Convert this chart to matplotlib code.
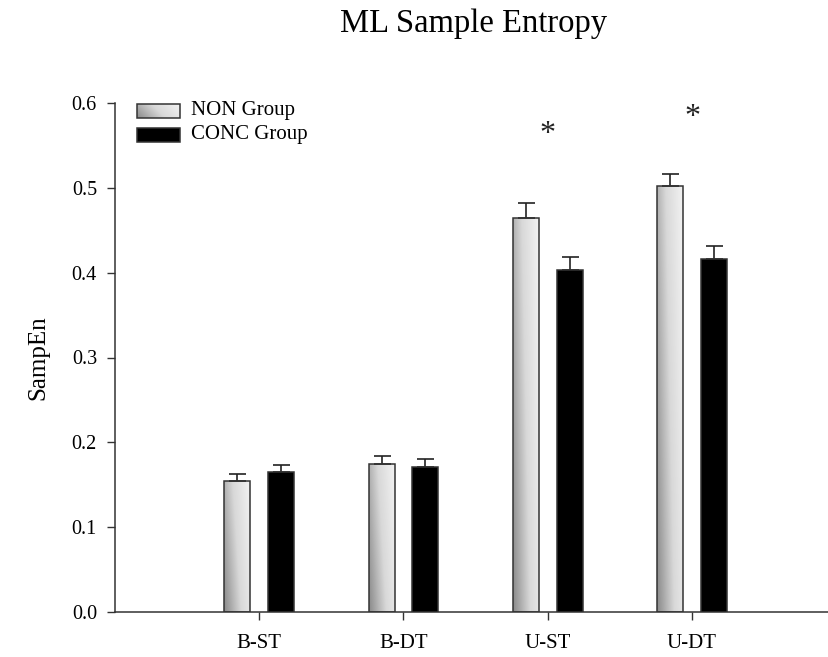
import numpy as np
import matplotlib
matplotlib.use("Agg")
import matplotlib.pyplot as plt
from matplotlib.patches import Rectangle
from matplotlib.colors import LinearSegmentedColormap

plt.rcParams['font.family'] = ['Liberation Serif', 'DejaVu Serif']

categories = ["B-ST", "B-DT", "U-ST", "U-DT"]
non_vals = [0.154, 0.175, 0.464, 0.502]
non_err = [0.009, 0.009, 0.018, 0.014]
conc_vals = [0.165, 0.171, 0.403, 0.416]
conc_err = [0.008, 0.009, 0.016, 0.015]
sig_y = [None, None, 0.563, 0.583]
series_names = ["NON Group", "CONC Group"]

W, H = 829, 657
fig = plt.figure(figsize=(W / 100, H / 100), dpi=100)
ax = fig.add_axes([115 / W, 1 - 612 / H, 1 - 115 / W, (612 - 103) / H])

x = np.arange(1, len(categories) + 1)
bw = 0.18
off = 0.152
edge = '#333333'

cmap = LinearSegmentedColormap.from_list('g', ['#8a8a8a', '#d8d8d8', '#f2f2f2'])
gx, gy = np.meshgrid(np.linspace(0, 1, 64), np.linspace(0, 1, 64))
grad = 0.75 * gx + 0.25 * gy

bars_non = ax.bar(x - off, non_vals, bw, facecolor='none', edgecolor=edge, linewidth=1.1, zorder=3)
for b in bars_non:
    im = ax.imshow(grad, cmap=cmap, vmin=0, vmax=1, origin='lower', aspect='auto',
                   extent=[b.get_x(), b.get_x() + b.get_width(), 0, b.get_height()],
                   zorder=2, interpolation='bilinear')
    im.set_clip_path(b)
ax.bar(x + off, conc_vals, bw, color='black', edgecolor=edge, linewidth=1.1, zorder=3)

ax.errorbar(x - off, non_vals, yerr=[np.zeros(4), non_err], fmt='none', ecolor='#222222',
            elinewidth=1.2, capsize=8.5 * 0.72, capthick=1.2, zorder=2.5)
ax.errorbar(x + off, conc_vals, yerr=[np.zeros(4), conc_err], fmt='none', ecolor='#222222',
            elinewidth=1.2, capsize=8.5 * 0.72, capthick=1.2, zorder=2.5)

for xi, sy in zip(x, sig_y):
    if sy is not None:
        ax.text(xi, sy, '*', ha='center', va='center', fontsize=23, color='#222222')

ax.set_xlim(0.0, 4.95)
ax.set_ylim(0, 0.6)
ax.set_xticks(x)
ax.set_xticklabels(categories, fontsize=15)
ax.set_yticks(np.arange(0, 0.61, 0.1))
ax.set_yticklabels([f"{v:.1f}" for v in np.arange(0, 0.61, 0.1)], fontsize=14.5)
ax.spines['top'].set_visible(False)
ax.spines['right'].set_visible(False)
for s in ['left', 'bottom']:
    ax.spines[s].set_color('#333333')
    ax.spines[s].set_linewidth(1.1)
ax.tick_params(axis='both', direction='out', length=6, width=1.0, color='#333333')
ax.tick_params(axis='y', pad=7)
ax.tick_params(axis='x', pad=10)
ax.set_ylabel('SampEn', fontsize=18, labelpad=16)

# legend (manual)
def ax_xy(px, py):
    return (px - 115) / (W - 115), (612 - py) / (612 - 103)

x0, y0 = ax_xy(137, 118)
x1, y1 = ax_xy(180, 104)
r = Rectangle((x0, y0), x1 - x0, y1 - y0, transform=ax.transAxes, facecolor='none',
              edgecolor=edge, linewidth=1.1, zorder=5, clip_on=False)
ax.add_patch(r)
im = ax.imshow(grad, cmap=cmap, vmin=0, vmax=1, origin='lower', aspect='auto',
               extent=[x0, x1, y0, y1], transform=ax.transAxes, zorder=4)
im.set_clip_path(r)
ax.text(*ax_xy(191, 111), series_names[0], transform=ax.transAxes, fontsize=15, va='center', ha='left')
x0, y0 = ax_xy(137, 142)
x1, y1 = ax_xy(180, 128)
ax.add_patch(Rectangle((x0, y0), x1 - x0, y1 - y0, transform=ax.transAxes, facecolor='black',
                       edgecolor=edge, linewidth=1.1, zorder=5, clip_on=False))
ax.text(*ax_xy(191, 135), series_names[1], transform=ax.transAxes, fontsize=15, va='center', ha='left')

ax.set_xlim(0.0, 4.95)
ax.set_ylim(0, 0.6)

fig.text(474 / W, 1 - 32 / H, 'ML Sample Entropy', ha='center', va='baseline', fontsize=23.5)

fig.savefig('out.png', dpi=100)
